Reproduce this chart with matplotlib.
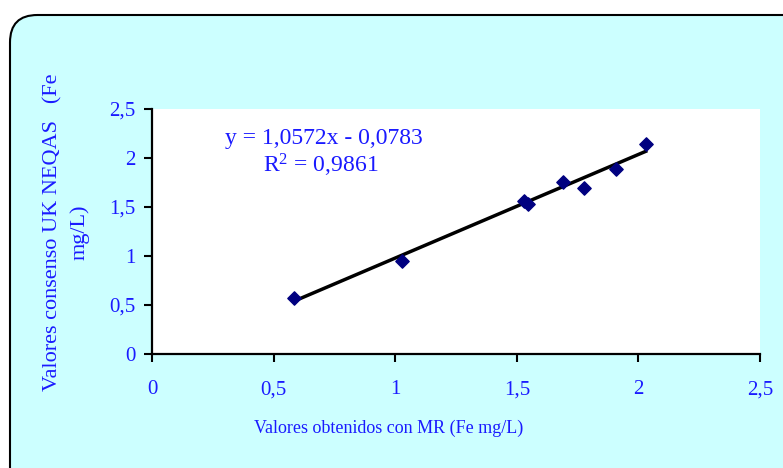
import matplotlib
matplotlib.use("Agg")
import matplotlib.pyplot as plt
from matplotlib.patches import FancyBboxPatch
import numpy as np

# Measured values (Fe mg/L)
mr_values = [0.585, 1.027, 1.530, 1.545, 1.690, 1.776, 1.907, 2.030]
neqas_values = [0.57, 0.95, 1.56, 1.53, 1.76, 1.69, 1.89, 2.14]

# Linear trend line coefficients
slope = 1.0572
intercept = -0.0783
r_squared = 0.9861

tick_values = [0, 0.5, 1, 1.5, 2, 2.5]
tick_labels = ["0", "0,5", "1", "1,5", "2", "2,5"]

W, H = 783, 468
text_color = "#1a1aff"
font = "Liberation Serif"

plt.rcParams["mathtext.fontset"] = "custom"
plt.rcParams["mathtext.rm"] = font
plt.rcParams["mathtext.it"] = font

fig = plt.figure(figsize=(W / 100, H / 100), dpi=100)
fig.patch.set_facecolor("white")

# Rounded chart-area frame
frame = FancyBboxPatch((10 / W, -40 / H), (W + 40) / W, (H - 15 + 40) / H,
                       boxstyle="round,pad=0,rounding_size=0.035",
                       transform=fig.transFigure, facecolor="#ccffff",
                       edgecolor="black", linewidth=1.5, zorder=-5,
                       mutation_aspect=W / H)
fig.patches.append(frame)

ax = fig.add_axes([152 / W, (H - 354) / H, (760 - 152) / W, (354 - 109) / H])
ax.set_zorder(2)
ax.set_facecolor("white")
ax.set_xlim(0, 2.5)
ax.set_ylim(0, 2.5)

ax.scatter(mr_values, neqas_values, marker="D", s=46, color="#000080",
           zorder=3, clip_on=False)

xs = np.array([min(mr_values), max(mr_values)])
ax.plot(xs, slope * xs + intercept, color="black", linewidth=2.5, zorder=2)

for side in ("top", "right"):
    ax.spines[side].set_visible(False)
for side in ("left", "bottom"):
    ax.spines[side].set_linewidth(1.6)
    ax.spines[side].set_color("black")

ax.set_xticks(tick_values)
ax.set_xticklabels(tick_labels)
ax.set_yticks(tick_values)
ax.set_yticklabels(tick_labels)
ax.tick_params(axis="both", direction="out", length=6, width=1.5,
               colors="black", labelcolor=text_color, labelsize=15)
ax.tick_params(axis="x", pad=13)
ax.tick_params(axis="y", pad=6)
for lbl in ax.get_xticklabels() + ax.get_yticklabels():
    lbl.set_fontfamily(font)

fig.text(389 / W, 1 - 428 / H, "Valores obtenidos con MR (Fe mg/L)",
         ha="center", va="center", color=text_color, fontsize=13,
         family=font, zorder=5)
fig.text(66 / W, 1 - 232 / H, "Valores consenso UK NEQAS   (Fe\nmg/L)",
         ha="center", va="center", rotation=90, color=text_color,
         fontsize=16, family=font, linespacing=1.5, zorder=5)

fig.text(324 / W, 1 - 138 / H, f"y = {slope:.4f}x - {abs(intercept):.4f}".replace(".", ","),
         ha="center", va="center", color=text_color, fontsize=17, family=font,
         zorder=5)
fig.text(321 / W, 1 - 165 / H, r"R$^{\mathregular{2}}$" + f" = {r_squared:.4f}".replace(".", ","),
         ha="center", va="center", color=text_color, fontsize=17, family=font,
         zorder=5)

fig.savefig("out.png", dpi=100)
